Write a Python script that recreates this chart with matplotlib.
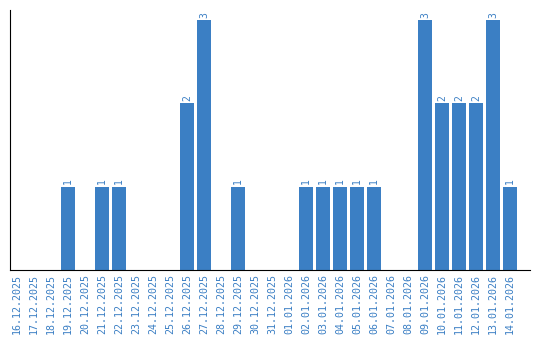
import matplotlib

matplotlib.use("Agg")

import matplotlib.pyplot as plt
import numpy as np

dates = [
    "16.12.2025", "17.12.2025", "18.12.2025", "19.12.2025", "20.12.2025",
    "21.12.2025", "22.12.2025", "23.12.2025", "24.12.2025", "25.12.2025",
    "26.12.2025", "27.12.2025", "28.12.2025", "29.12.2025", "30.12.2025",
    "31.12.2025", "01.01.2026", "02.01.2026", "03.01.2026", "04.01.2026",
    "05.01.2026", "06.01.2026", "07.01.2026", "08.01.2026", "09.01.2026",
    "10.01.2026", "11.01.2026", "12.01.2026", "13.01.2026", "14.01.2026",
]
counts = [0, 0, 0, 1, 0, 1, 1, 0, 0, 0, 2, 3, 0, 1, 0,
          0, 0, 1, 1, 1, 1, 1, 0, 0, 3, 2, 2, 2, 3, 1]

blue = "#3b7fc4"

fig = plt.figure(figsize=(5.4, 3.4), dpi=100)
ax = fig.add_axes([10 / 540, 70 / 340, 520 / 540, 260 / 340])

x = np.arange(len(dates))
ax.bar(x, counts, width=0.82, color=blue)
for xi, c in zip(x, counts):
    if c > 0:
        ax.text(xi, c + 0.03, str(c), rotation=90, ha="center", va="bottom",
                fontsize=7, color=blue, family="DejaVu Sans Mono")

ax.set_xlim(-0.41, 30.18)
ax.set_ylim(0, 3.12)
ax.set_xticks(x)
ax.set_xticklabels(dates, rotation=90, fontsize=7.2, color=blue, family="DejaVu Sans Mono")
ax.tick_params(axis="x", length=0, pad=3)
ax.set_yticks([])
for side in ["top", "right"]:
    ax.spines[side].set_visible(False)
ax.spines["left"].set_color("black")
ax.spines["bottom"].set_color("black")

fig.savefig("out.png", dpi=100)
